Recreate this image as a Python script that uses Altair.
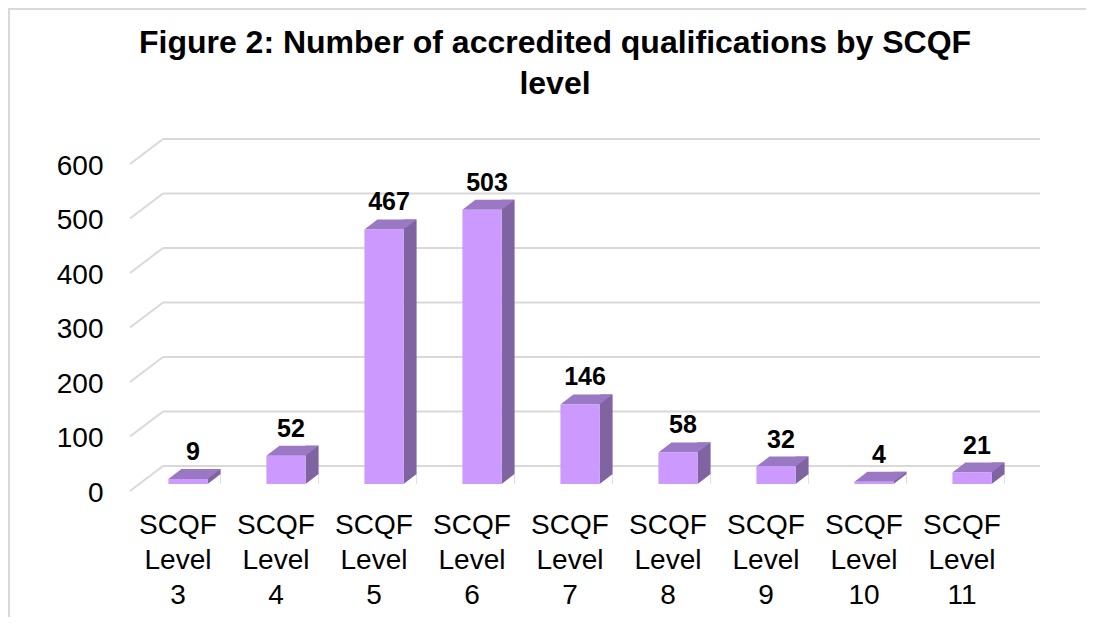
import altair as alt
import pandas as pd

# ---- data ----
levels = ["SCQF Level 3", "SCQF Level 4", "SCQF Level 5", "SCQF Level 6", "SCQF Level 7",
          "SCQF Level 8", "SCQF Level 9", "SCQF Level 10", "SCQF Level 11"]
counts = [9, 52, 467, 503, 146, 58, 32, 4, 21]
y_ticks = [0, 100, 200, 300, 400, 500, 600]
title_lines = ["Figure 2: Number of accredited qualifications by SCQF", "level"]

df = pd.DataFrame({"level": levels, "count": counts})
grid_df = pd.DataFrame({"tick": y_ticks})
edge_df = pd.DataFrame({"edge": [0]})

FONT = "Liberation Sans"
FRONT = "#CC99FF"
TOP = "#9A78C4"
SIDE = "#8064A2"
GRID = "#D9D9D9"

W, H = 1078, 609

x_scale = alt.Scale(domain=levels, range=[131, 1013], paddingInner=0.6, paddingOuter=0.3)
y_scale = alt.Scale(domain=[0, 600], range=[476, 149], nice=False, zero=True)

x_axis = alt.Axis(labelExpr="split(datum.label, ' ')", labelFont=FONT,
                  labelFontSize=28, labelLineHeight=35, labelColor="black",
                  labelAngle=0, domain=False, ticks=False, tickSize=0,
                  labelPadding=0, offset=-106, labelOffset=-10,
                  labelBaseline="top", grid=False, title=None)
y_axis = alt.Axis(values=y_ticks, labelFont=FONT, labelFontSize=28,
                  labelColor="black", domain=False, ticks=False, tickSize=0,
                  labelPadding=0, offset=-95, labelOffset=9, grid=False,
                  labelFlush=False, labelOverlap=False, title=None)

# parallelogram top face (unit box, scaled by sqrt(size)/2)
TOP_PATH = "M -1 0.1916 L 0.5019 0.1916 L 1 -0.1916 L -0.5019 -0.1916 Z"
# triangle to trim the lower corner of the side face
TRI_PATH = "M -1 0.7692 L 1 -0.7692 L 1 0.7692 Z"

border_top = alt.Chart(edge_df).mark_rule(color=GRID, strokeWidth=2).encode(
    x=alt.value(0), x2=alt.value(W), y=alt.value(1))
border_left = alt.Chart(edge_df).mark_rule(color=GRID, strokeWidth=2).encode(
    y=alt.value(0), y2=alt.value(H), x=alt.value(1))

grid_back = alt.Chart(grid_df).mark_rule(color=GRID, strokeWidth=2, yOffset=-18).encode(
    y=alt.Y("tick:Q", scale=y_scale, axis=y_axis),
    x=alt.value(155), x2=alt.value(1032))
grid_diag = alt.Chart(grid_df).mark_rule(color=GRID, strokeWidth=2, yOffset=7, y2Offset=-18).encode(
    y=alt.Y("tick:Q", scale=y_scale, axis=y_axis),
    y2=alt.Y2("tick"),
    x=alt.value(122), x2=alt.value(155))

base = alt.Chart(df).transform_calculate(base="0")
X = alt.X("level:N", scale=x_scale, sort=levels, axis=x_axis)
Ycount = alt.Y("count:Q", scale=y_scale, axis=y_axis, stack=None)

side = base.mark_bar(color=SIDE, width=13, xOffset=26.1, yOffset=-10, y2Offset=0).encode(
    x=X, y=Ycount, y2=alt.Y2("base:Q"))

trim = base.mark_point(shape=TRI_PATH, filled=True, size=169, color="white",
                       opacity=1, strokeWidth=0, xOffset=26.1, yOffset=-5).encode(
    x=X, y=alt.Y("base:Q", scale=y_scale, axis=y_axis))

top = base.mark_point(shape=TOP_PATH, filled=True, size=2724.84, color=TOP,
                      opacity=1, strokeWidth=0, xOffset=6.5, yOffset=-5).encode(
    x=X, y=Ycount)

front = base.mark_bar(color=FRONT).encode(x=X, y=Ycount)

labels = base.mark_text(font=FONT, fontSize=25, fontWeight="bold", color="black",
                        dy=-19, dx=5, baseline="alphabetic", align="center").encode(
    x=X, y=Ycount, text="count:Q")

chart = alt.layer(border_top, border_left, grid_back, grid_diag, side, trim, top, front, labels).properties(
    width=W, height=H,
    title=alt.TitleParams(text=title_lines, font=FONT, fontSize=32, fontWeight="bold",
                          color="black", anchor="middle", frame="group",
                          lineHeight=41, offset=0, dy=94, dx=8),
    autosize=alt.AutoSizeParams(type="none"),
    padding=0,
).configure_view(stroke=None)

chart.save("out.html", embed_options={"renderer": "svg", "actions": False})
